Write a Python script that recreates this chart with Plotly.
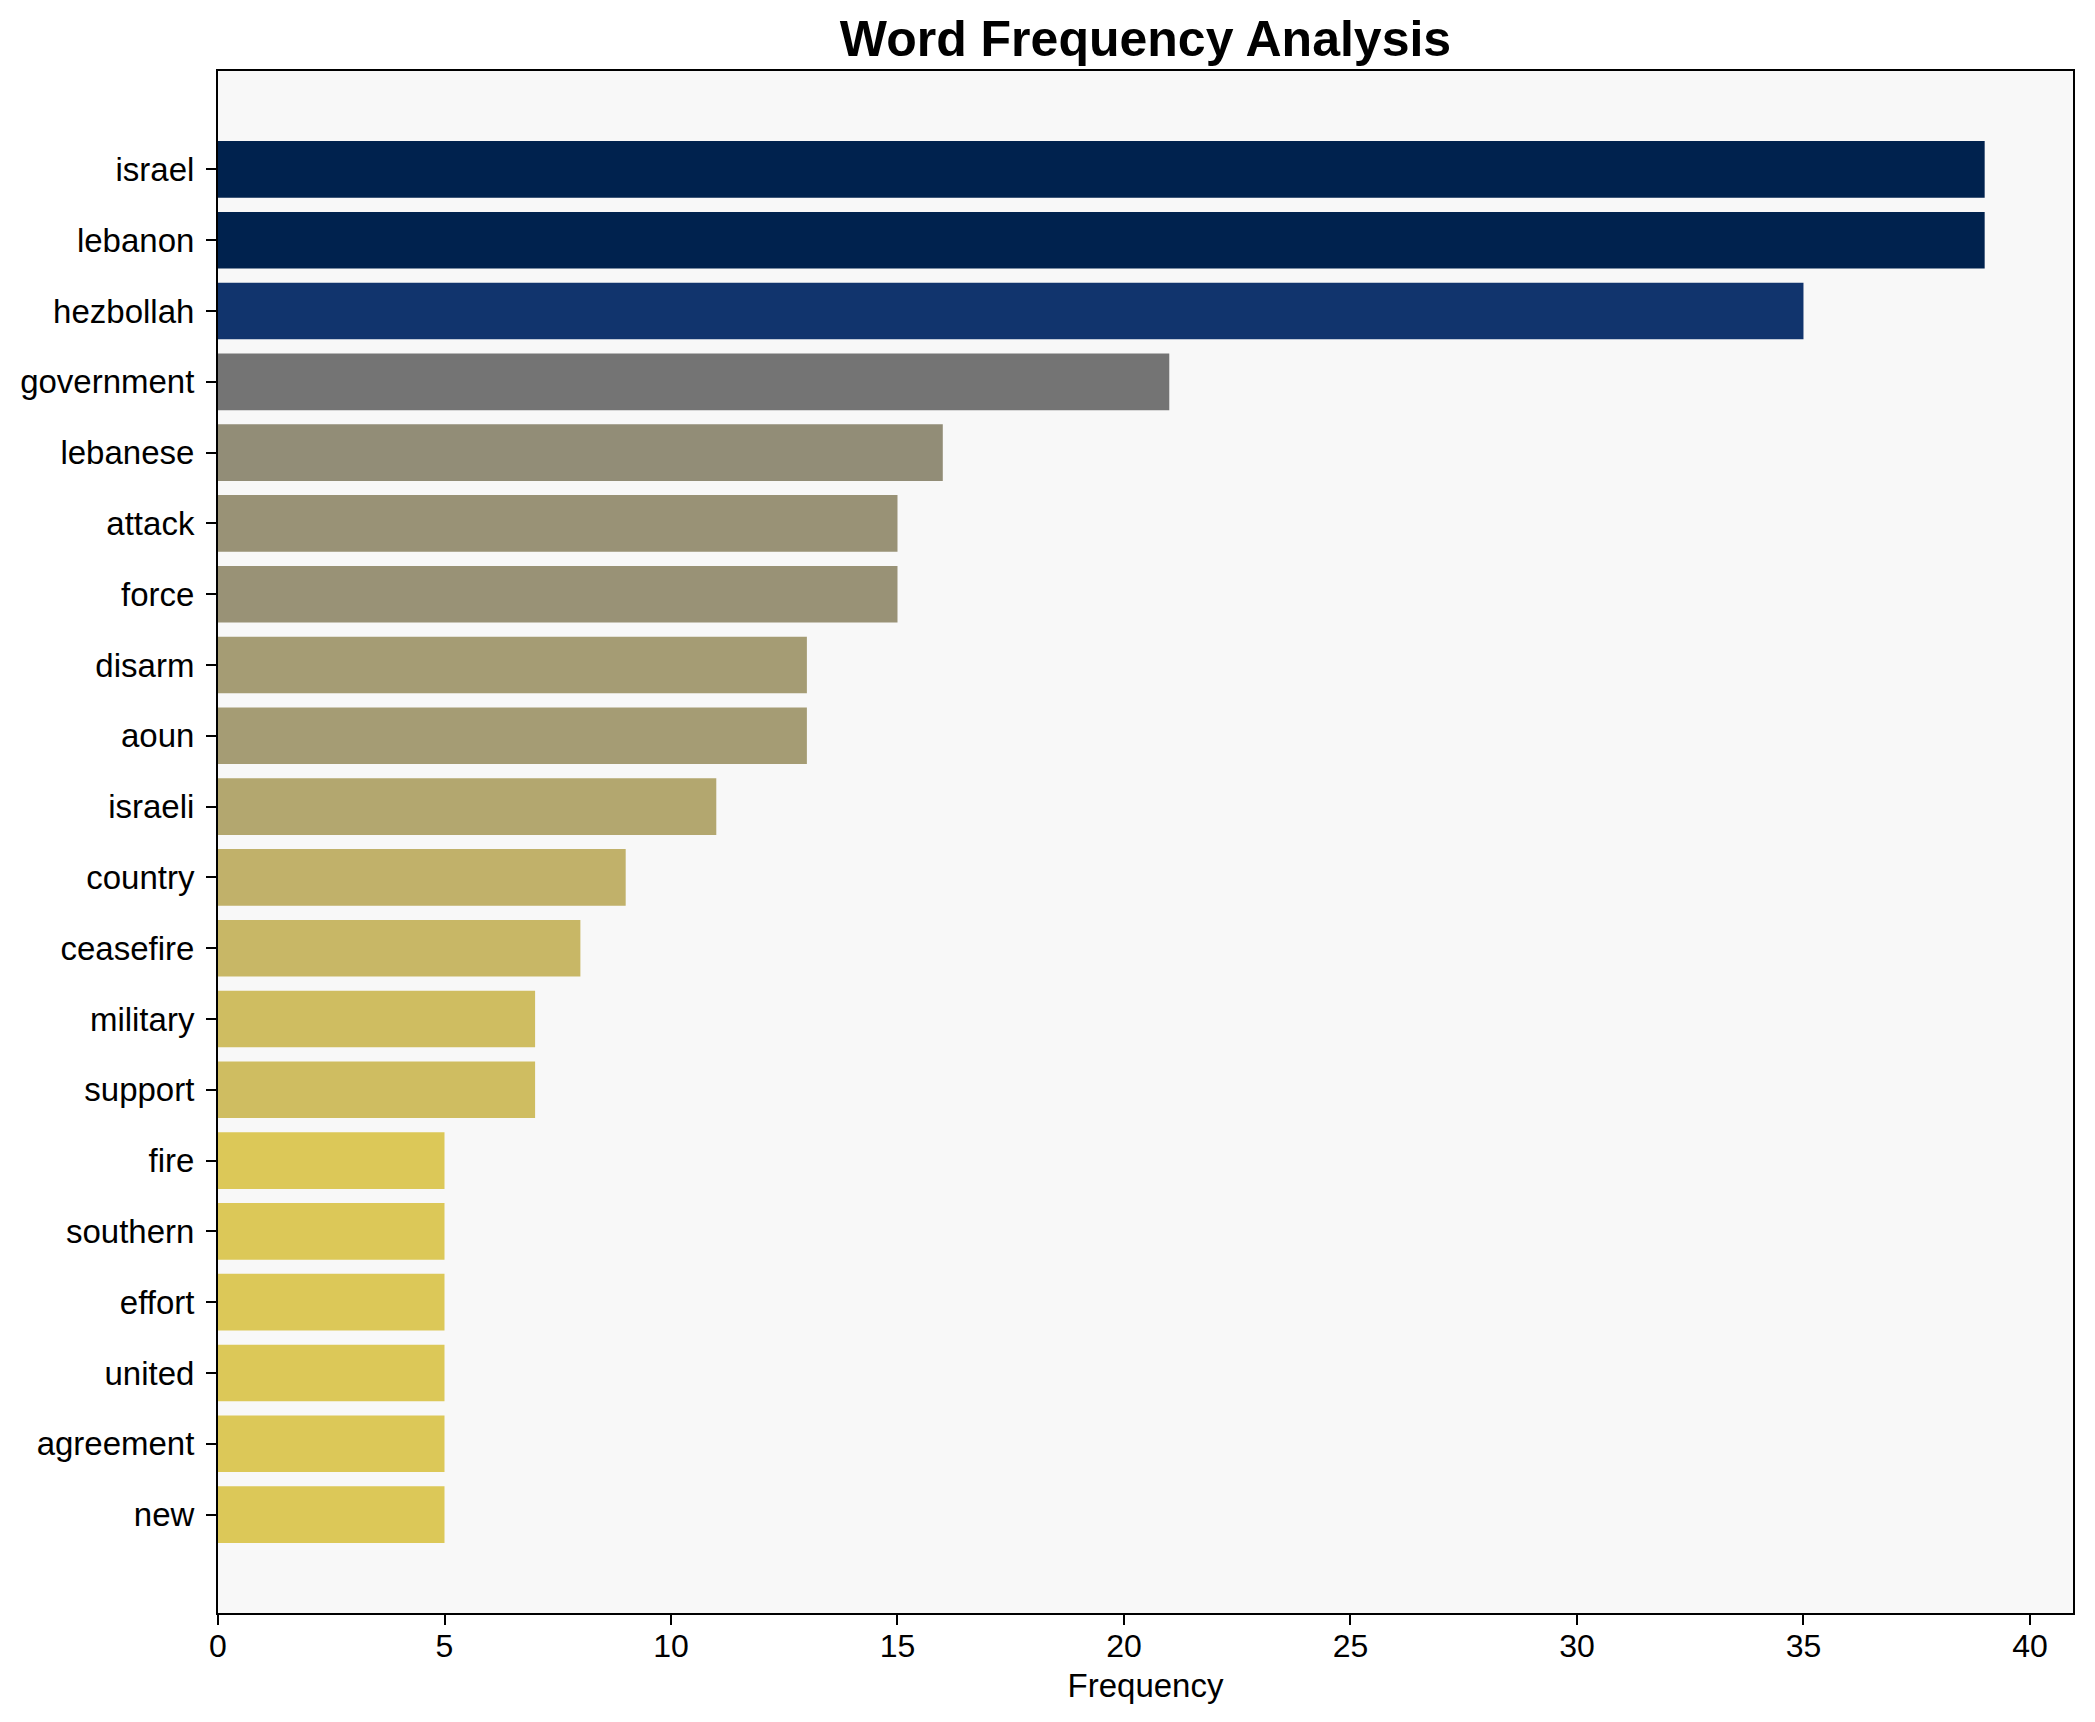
import plotly.graph_objects as go

words = ["israel", "lebanon", "hezbollah", "government", "lebanese", "attack", "force",
         "disarm", "aoun", "israeli", "country", "ceasefire", "military", "support",
         "fire", "southern", "effort", "united", "agreement", "new"]
freqs = [39, 39, 35, 21, 16, 15, 15, 13, 13, 11, 9, 8, 7, 7, 5, 5, 5, 5, 5, 5]

# page body has an 8px default margin; size the figure to fit inside the window
W, H = 2095 - 16, 1722 - 16
FONT = "Arial, Liberation Sans, sans-serif"
xmax = max(freqs) * 1.05
n = len(words)
pad = 0.05 * (n - 1 + 0.8)

fig = go.Figure(go.Bar(
    x=freqs,
    y=words,
    orientation="h",
    marker=dict(color=freqs, colorscale="Cividis", reversescale=True,
                cmin=0, cmax=max(freqs), line=dict(width=0)),
    hoverinfo="x+y",
))

fig.update_layout(
    width=W, height=H,
    paper_bgcolor="white",
    plot_bgcolor="#f8f8f8",
    bargap=0.2,
    margin=dict(l=207, r=13, t=63, b=101),
    font=dict(family=FONT, size=33, color="black"),
    title=dict(text="<b>Word Frequency Analysis</b>", x=0.5, xanchor="center",
               xref="paper",
               y=1 - 30 / H, yanchor="middle", yref="container",
               font=dict(family=FONT, size=50, color="black")),
    showlegend=False,
)
fig.update_xaxes(
    range=[0, xmax], dtick=5, tick0=0,
    showgrid=False, zeroline=False,
    showline=True, linecolor="black", linewidth=2, mirror=True,
    ticks="outside", ticklen=10, tickwidth=2, tickcolor="black",
    ticklabelstandoff=-6,
    tickfont=dict(size=32),
    title=dict(text="Frequency", font=dict(size=33), standoff=10),
)
fig.update_yaxes(
    type="category",
    categoryorder="array", categoryarray=words,
    range=[n - 1 + 0.4 + pad, -0.4 - pad],
    showgrid=False, zeroline=False,
    showline=True, linecolor="black", linewidth=2, mirror=True,
    ticks="outside", ticklen=10, tickwidth=2, tickcolor="black",
    ticklabelstandoff=5,
    tickfont=dict(size=33),
)

fig.write_html("out.html")
